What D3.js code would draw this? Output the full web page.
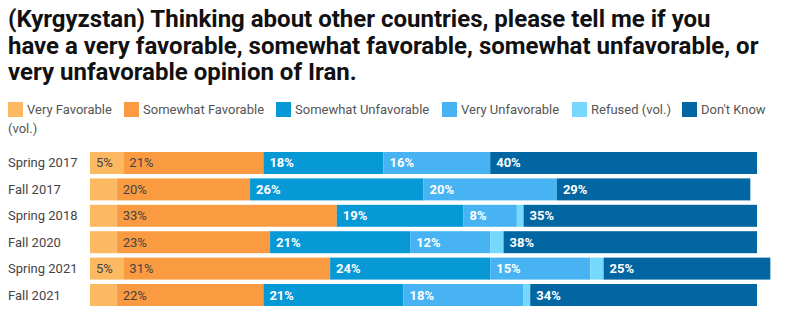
<!DOCTYPE html>
<html>
<head>
<meta charset="utf-8">
<script src="https://cdn.jsdelivr.net/npm/d3@7"></script>
<style>
  body { margin: 0; background: #fff; }
  svg { display: block; font-family: Roboto, "Noto Sans", sans-serif; }
</style>
</head>
<body>
<div id="chart"></div>
<script>
var waves = ["Spring 2017", "Fall 2017", "Spring 2018", "Fall 2020", "Spring 2021", "Fall 2021"];
var answers = ["Very Favorable", "Somewhat Favorable", "Somewhat Unfavorable", "Very Unfavorable", "Refused (vol.)", "Don't Know"];
var colors = ["#fcb962", "#fa9b42", "#0798d6", "#47b3f3", "#76d8fd", "#0266a3"];

// one array per answer, in the order of waves
var veryFav    = [5, 4, 4, 4, 5, 4];
var someFav    = [21, 20, 33, 23, 31, 22];
var someUnfav  = [18, 26, 19, 21, 24, 21];
var veryUnfav  = [16, 20, 8, 12, 15, 18];
var refused    = [0, 0, 1, 2, 2, 1];
var dontKnow   = [40, 29, 35, 38, 25, 34];

var series = [veryFav, someFav, someUnfav, veryUnfav, refused, dontKnow];

var w = 793, h = 327,
    left = 90;

var rows = waves.map(function(d, i) {
  var r = { wave: d };
  answers.forEach(function(a, j) { r[a] = series[j][i]; });
  return r;
});

var stack = d3.stack().keys(answers)(rows);

var x = d3.scaleLinear().domain([0, 100]).range([left, left + 667]);
var y = d3.scaleBand().domain(waves).range([152, 306]).paddingInner(0.167).paddingOuter(0);

var svg = d3.select("#chart").append("svg")
    .attr("width", w)
    .attr("height", h);

// title
var title = [
  "(Kyrgyzstan) Thinking about other countries, please tell me if you",
  "have a very favorable, somewhat favorable, somewhat unfavorable, or",
  "very unfavorable opinion of Iran."
];
svg.append("g").selectAll("text")
    .data(title)
  .enter().append("text")
    .attr("x", 8)
    .attr("y", function(d, i) { return 27 + i * 26.5; })
    .attr("font-size", 24)
    .attr("font-weight", 700)
    .attr("fill", "#111")
    .text(function(d) { return d; });

// legend
var legendX = [8, 124, 276, 442, 572, 682];
var legend = svg.append("g").selectAll("g")
    .data(answers)
  .enter().append("g")
    .attr("transform", function(d, i) { return "translate(" + legendX[i] + ",102)"; });
legend.append("rect")
    .attr("width", 15)
    .attr("height", 15)
    .attr("fill", function(d, i) { return colors[i]; });
legend.append("text")
    .attr("x", 19)
    .attr("y", 12)
    .attr("font-size", 13)
    .attr("fill", "#555")
    .text(function(d) { return d; });
svg.append("text")
    .attr("x", 8)
    .attr("y", 133)
    .attr("font-size", 13)
    .attr("fill", "#555")
    .text("(vol.)");

// wave labels
svg.append("g").selectAll("text")
    .data(waves)
  .enter().append("text")
    .attr("x", 8)
    .attr("y", function(d) { return y(d) + y.bandwidth() / 2 + 4.5; })
    .attr("font-size", 13)
    .attr("fill", "#444")
    .text(function(d) { return d; });

// stacked bars
var layer = svg.append("g").selectAll("g")
    .data(stack)
  .enter().append("g")
    .attr("fill", function(d, i) { return colors[i]; });

layer.selectAll("rect")
    .data(function(d) { return d; })
  .enter().append("rect")
    .attr("x", function(d) { return x(d[0]); })
    .attr("y", function(d) { return y(d.data.wave); })
    .attr("width", function(d) { return x(d[1]) - x(d[0]); })
    .attr("height", y.bandwidth());

// value labels, skipped where the segment is too narrow
layer.selectAll("text")
    .data(function(d, i) { return d.map(function(p) { return { p: p, k: i }; }); })
  .enter().filter(function(d) { return x(d.p[1]) - x(d.p[0]) >= 30; })
  .append("text")
    .attr("x", function(d) { return x(d.p[0]) + 6; })
    .attr("y", function(d) { return y(d.p.data.wave) + y.bandwidth() / 2 + 4.5; })
    .attr("font-size", 13)
    .attr("font-weight", function(d) { return d.k < 2 ? 400 : 700; })
    .attr("fill", function(d) { return d.k < 2 ? "#444" : "#fff"; })
    .text(function(d) { return (d.p[1] - d.p[0]) + "%"; });
</script>
</body>
</html>
